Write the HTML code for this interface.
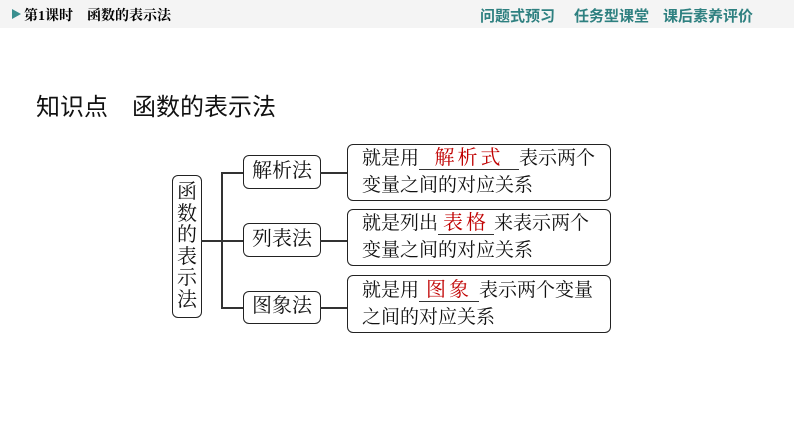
<!DOCTYPE html><html><head><meta charset="utf-8"><style>
body{margin:0;width:794px;height:446px;background:#fff;position:relative;overflow:hidden;font-family:"Liberation Serif","Noto Serif CJK SC",serif;}
.hd{position:absolute;left:0;top:0;width:794px;height:28px;background:#f4f4f4;}
.a{position:absolute;white-space:nowrap;}
.bx{position:absolute;border:1.5px solid #222;border-radius:6px;box-sizing:border-box;background:#fff;}
.ln{position:absolute;background:#333;}
.t{font-size:19px;color:#111;line-height:27px;}
.r{color:#c00000;display:inline-block;border-bottom:1px solid #333;text-align:center;letter-spacing:3px;line-height:22px;}
.nav{position:absolute;top:5px;font-size:15px;color:#2e8080;font-family:'Liberation Sans','Noto Sans CJK SC',sans-serif;font-weight:bold;white-space:nowrap;}
</style></head><body>
<div class="hd"></div>
<div class="a" style="left:12px;top:9px;width:0;height:0;border-left:9px solid #3a8f8f;border-top:5px solid transparent;border-bottom:5px solid transparent;"></div>
<div class="a" style="left:24px;top:5px;font-size:14px;font-weight:bold;">第1课时　函数的表示法</div>
<div class="nav" style="left:480px;">问题式预习</div>
<div class="nav" style="left:574px;">任务型课堂</div>
<div class="nav" style="left:663px;">课后素养评价</div>
<div class="a" style="left:36px;top:87px;font-size:24px;color:#111;font-family:'Liberation Sans','Noto Sans CJK SC',sans-serif;">知识点　函数的表示法</div>

<div class="bx" style="left:172px;top:175px;width:30px;height:143px;"></div>
<div class="a" style="left:177px;top:182px;width:20px;font-size:20px;line-height:21.5px;color:#111;white-space:normal;">函<br>数<br>的<br>表<br>示<br>法</div>
<div class="ln" style="left:201px;top:240px;width:21px;height:1.5px"></div>
<div class="ln" style="left:221px;top:172px;width:1.5px;height:136px"></div>
<div class="ln" style="left:221px;top:172px;width:22px;height:1.5px"></div>
<div class="ln" style="left:221px;top:240px;width:22px;height:1.5px"></div>
<div class="ln" style="left:221px;top:307px;width:22px;height:1.5px"></div>

<div class="bx" style="left:243px;top:155px;width:78px;height:34px;"></div>
<div class="a t" style="left:252px;top:158px;font-size:20px;">解析法</div>
<div class="bx" style="left:243px;top:223px;width:78px;height:34px;"></div>
<div class="a t" style="left:252px;top:226px;font-size:20px;">列表法</div>
<div class="bx" style="left:243px;top:291px;width:78px;height:33px;"></div>
<div class="a t" style="left:252px;top:293px;font-size:20px;">图象法</div>

<div class="ln" style="left:320px;top:172px;width:28px;height:1.5px"></div>
<div class="ln" style="left:320px;top:240px;width:28px;height:1.5px"></div>
<div class="ln" style="left:320px;top:307px;width:28px;height:1.5px"></div>

<div class="bx" style="left:347px;top:144px;width:264px;height:57px;"></div>
<div class="a t" style="left:362px;top:145px;">就是用<span class="r" style="width:100px;font-size:20px;">解析式</span>表示两个<br>变量之间的对应关系</div>
<div class="bx" style="left:347px;top:209px;width:264px;height:57px;"></div>
<div class="a t" style="left:362px;top:210px;">就是列出<span class="r" style="width:56px;font-size:20px;">表格</span>来表示两个<br>变量之间的对应关系</div>
<div class="bx" style="left:347px;top:275px;width:264px;height:58px;"></div>
<div class="a t" style="left:362px;top:277px;">就是用<span class="r" style="width:60px;font-size:20px;">图象</span>表示两个变量<br>之间的对应关系</div>
</body></html>
